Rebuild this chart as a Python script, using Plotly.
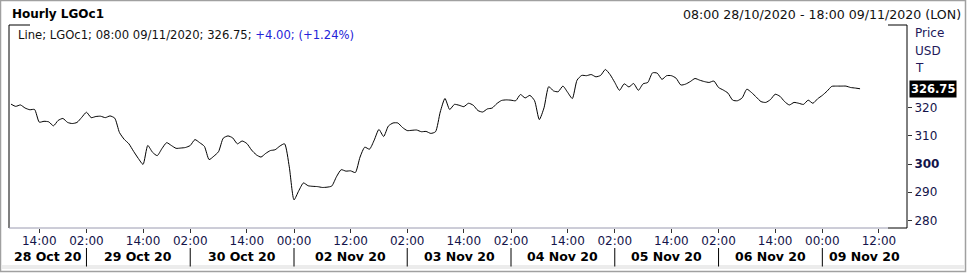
import pandas as pd
import plotly.graph_objects as go

# ---------------- data ----------------
title_left = "Hourly LGOc1"
title_right = "08:00 28/10/2020 - 18:00 09/11/2020 (LON)"
legend_main = "Line; LGOc1; 08:00 09/11/2020; 326.75; "
legend_change = "+4.00; (+1.24%)"
last_price = 326.75
axis_unit_lines = ["Price", "USD", "T"]

# trading sessions (hourly bars), start/end inclusive
session_starts = ["2020-10-28 08:00", "2020-10-29 01:00", "2020-10-30 01:00", "2020-11-01 23:00",
                  "2020-11-03 01:00", "2020-11-04 01:00", "2020-11-05 01:00", "2020-11-06 01:00",
                  "2020-11-08 23:00"]
session_ends = ["2020-10-28 22:00", "2020-10-29 22:00", "2020-10-30 22:00", "2020-11-02 22:00",
                "2020-11-03 22:00", "2020-11-04 22:00", "2020-11-05 22:00", "2020-11-06 22:00",
                "2020-11-09 18:00"]

prices = [
    321.3, 320.5, 321.0, 319.9, 319.3, 319.4, 314.9, 315.2, 315.0, 313.6,
    315.5, 316.2, 314.8, 314.4, 314.8, 316.6, 318.4, 316.5, 316.9, 317.0,
    316.5, 317.1, 316.3, 311.2, 308.8, 307.2, 304.5, 302.0, 299.9, 306.6,
    304.2, 303.0, 305.5, 307.6, 306.6, 305.6, 305.7, 305.9, 306.6, 308.7,
    307.6, 306.3, 301.6, 302.8, 304.4, 309.2, 310.0, 309.3, 307.2, 308.2,
    307.3, 305.0, 303.3, 302.5, 303.8, 304.8, 305.1, 306.4, 307.2, 299.0,
    287.3, 290.5, 293.3, 292.3, 292.1, 292.0, 291.7, 291.8, 292.2, 295.5,
    298.0, 297.5, 297.6, 297.0, 302.5, 306.0, 305.3, 308.5, 312.3, 309.8,
    313.5, 314.6, 314.6, 313.0, 311.9, 312.0, 312.1, 311.5, 311.6, 310.9,
    311.5, 318.5, 323.3, 319.4, 321.2, 320.9, 320.4, 321.6, 320.9, 319.0,
    318.5, 319.6, 319.9, 321.5, 322.6, 322.8, 322.7, 322.5, 324.7, 323.5,
    324.4, 322.5, 315.8, 320.0, 327.5, 326.0, 325.7, 327.7, 325.5, 323.3,
    329.8, 331.5, 331.4, 331.8, 331.0, 331.5, 333.6, 331.8, 329.0, 326.2,
    328.5, 327.4, 328.6, 326.2, 328.5, 329.0, 332.4, 332.3, 330.1, 331.4,
    331.4, 330.5, 328.1, 328.4, 329.3, 330.4, 329.8, 329.3, 329.0, 329.5,
    327.2, 326.3, 325.2, 322.7, 322.5, 323.5, 326.6, 325.4, 323.8, 322.2,
    321.9, 322.9, 324.8, 324.1, 322.2, 321.0, 321.9, 321.6, 321.2, 322.7,
    321.6, 323.2, 324.4, 325.9, 327.6, 327.7, 327.7, 327.7, 327.2, 327.0,
    326.75,
]

tick_times = ["2020-10-28 14:00", "2020-10-29 02:00", "2020-10-29 14:00", "2020-10-30 02:00",
              "2020-10-30 14:00", "2020-11-02 00:00", "2020-11-02 12:00", "2020-11-03 02:00",
              "2020-11-03 14:00", "2020-11-04 02:00", "2020-11-04 14:00", "2020-11-05 02:00",
              "2020-11-05 14:00", "2020-11-06 02:00", "2020-11-06 14:00", "2020-11-09 00:00",
              "2020-11-09 12:00"]
tick_labels = ["14:00", "02:00", "14:00", "02:00", "14:00", "00:00", "12:00", "02:00", "14:00",
               "02:00", "14:00", "02:00", "14:00", "02:00", "14:00", "00:00", "12:00"]

day_labels = ["28 Oct 20", "29 Oct 20", "30 Oct 20", "02 Nov 20", "03 Nov 20", "04 Nov 20",
              "05 Nov 20", "06 Nov 20", "09 Nov 20"]
day_break_times = ["2020-10-29 02:00", "2020-10-30 02:00", "2020-11-02 00:00", "2020-11-03 02:00",
                   "2020-11-04 02:00", "2020-11-05 02:00", "2020-11-06 02:00", "2020-11-09 00:00"]

y_ticks = [280, 290, 300, 310, 320]

# ---------------- build bar index ----------------
stamps = []
for s, e in zip(session_starts, session_ends):
    stamps.extend(pd.date_range(s, e, freq="h"))
pos = {t: i for i, t in enumerate(stamps)}
x_all = list(range(len(stamps)))
x_data = x_all[:len(prices)]
tick_vals = [pos[pd.Timestamp(t)] for t in tick_times]
breaks = [pos[pd.Timestamp(t)] for t in day_break_times]

W, H = 967, 273
def px(v):
    return v / W
def py(v):
    return 1 - v / H

x_range = [-0.42, 189.95]
y_range = [277.3, 349.4]

NAVY = "#14144a"
FONT = "DejaVu Sans"

fig = go.Figure()
fig.add_trace(go.Scatter(x=x_data, y=prices, mode="lines",
                         line=dict(color="black", width=1, shape="spline", smoothing=0.6),
                         hoverinfo="skip"))

fig.update_layout(
    width=W, height=H, margin=dict(l=0, r=0, t=0, b=0), autosize=False,
    paper_bgcolor="white", plot_bgcolor="white", showlegend=False,
    font=dict(family=FONT, size=12, color=NAVY),
    xaxis=dict(domain=[px(9), px(907)], range=x_range, tickmode="array", tickvals=tick_vals,
               ticktext=tick_labels, ticks="outside", ticklen=4, tickcolor="#333333",
               ticklabelstandoff=-2,
               showgrid=False, zeroline=False, showline=False,
               tickfont=dict(family=FONT, size=12, color=NAVY)),
    yaxis=dict(domain=[py(228), py(25)], range=y_range, side="right", tickmode="array",
               tickvals=y_ticks,
               ticktext=[("<b>%d</b>" % v) if v == 300 else str(v) for v in y_ticks],
               ticks="outside", ticklen=4, tickcolor="#333333",
               showgrid=False, zeroline=False, showline=False,
               tickfont=dict(family=FONT, size=12, color=NAVY)),
)

shapes = []
# outer frame
shapes.append(dict(type="rect", xref="paper", yref="paper", x0=px(0.5), x1=px(965.5),
                   y0=py(271.5), y1=py(0.5), line=dict(color="#a0a0a0", width=1.5)))
# bottom light strip
shapes.append(dict(type="rect", xref="paper", yref="paper", x0=px(2), x1=px(964),
                   y0=py(269), y1=py(265), fillcolor="#ececec", line=dict(width=0)))
# plot frame
shapes.append(dict(type="line", xref="paper", yref="paper", x0=px(9), x1=px(9),
                   y0=py(228), y1=py(25), line=dict(color="black", width=1)))
shapes.append(dict(type="line", xref="paper", yref="paper", x0=px(907), x1=px(907),
                   y0=py(228), y1=py(25), line=dict(color="black", width=1)))
shapes.append(dict(type="line", xref="paper", yref="paper", x0=px(9), x1=px(30),
                   y0=py(25), y1=py(25), line=dict(color="black", width=1)))
shapes.append(dict(type="line", xref="paper", yref="paper", x0=px(888), x1=px(907),
                   y0=py(25), y1=py(25), line=dict(color="black", width=1)))
shapes.append(dict(type="line", xref="paper", yref="paper", x0=px(9), x1=px(888),
                   y0=py(228), y1=py(228), line=dict(color="#9a9ab0", width=1)))
shapes.append(dict(type="line", xref="paper", yref="paper", x0=px(888), x1=px(907),
                   y0=py(228), y1=py(228), line=dict(color="black", width=1)))
# day separators
for b in breaks:
    shapes.append(dict(type="line", xref="x", yref="paper", x0=b, x1=b,
                       y0=py(266.5), y1=py(248), line=dict(color="black", width=1)))
fig.update_layout(shapes=shapes)

ann = []
ann.append(dict(text="<b>" + title_left + "</b>", xref="paper", yref="paper", x=px(10), y=py(14),
                xanchor="left", yanchor="middle", showarrow=False,
                font=dict(family=FONT, size=12, color="black")))
ann.append(dict(text=title_right, xref="paper", yref="paper", x=px(963), y=py(14),
                xanchor="right", yanchor="middle", showarrow=False,
                font=dict(family=FONT, size=12.6, color="#111111")))
ann.append(dict(text=legend_main + "<span style='color:#2323d8'>" + legend_change + "</span>",
                xref="paper", yref="paper", x=px(16), y=py(35), xanchor="left", yanchor="middle",
                showarrow=False, font=dict(family=FONT, size=11.6, color="#111111")))
for i, t in enumerate(axis_unit_lines):
    ann.append(dict(text=t, xref="paper", yref="paper", x=px(913), y=py(33 + 17.5 * i),
                    xanchor="left", yanchor="middle", showarrow=False,
                    font=dict(family=FONT, size=12, color="#22185a")))
ann.append(dict(text="<b>%.2f</b>" % last_price, xref="paper", yref="y", x=px(909), y=last_price,
                xanchor="left", yanchor="middle", showarrow=False, bgcolor="black", borderpad=1,
                font=dict(family=FONT, size=11.5, color="white")))
edges = [x_range[0]] + breaks + [x_range[1]]
for i, lab in enumerate(day_labels):
    ann.append(dict(text="<b>" + lab + "</b>", xref="x", yref="paper",
                    x=(edges[i] + edges[i + 1]) / 2, y=py(256), xanchor="center", yanchor="middle",
                    showarrow=False, font=dict(family=FONT, size=12.5, color="black")))
fig.update_layout(annotations=ann)

fig.write_html("out.html")
